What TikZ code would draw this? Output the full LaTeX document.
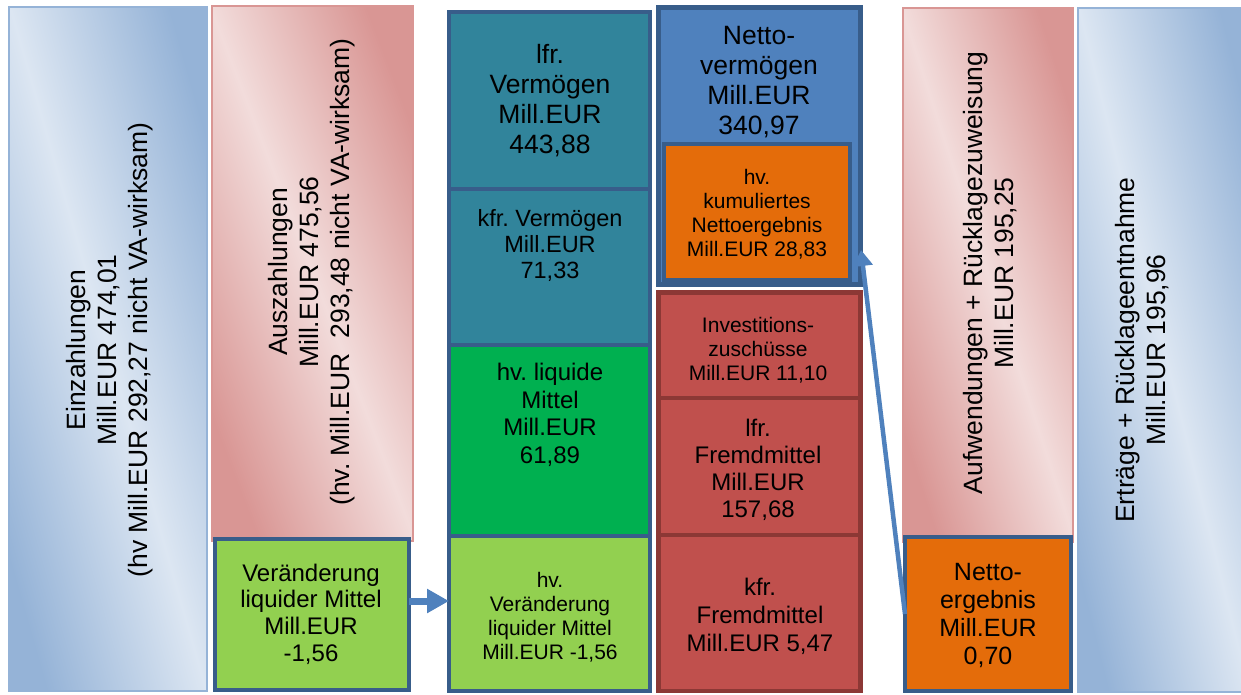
\documentclass[tikz,border=0pt]{standalone}
\usepackage{fontspec}
\setmainfont{Liberation Sans}
\frenchspacing
\usetikzlibrary{fit,arrows.meta}
\definecolor{blueL}{HTML}{DCE6F2}
\definecolor{blueD}{HTML}{95B3D7}
\definecolor{pinkL}{HTML}{F2DCDB}
\definecolor{pinkD}{HTML}{D99694}
\definecolor{tealF}{HTML}{31849B}
\definecolor{bordB}{HTML}{385D8A}
\definecolor{greenF}{HTML}{00B050}
\definecolor{lgreenF}{HTML}{92D050}
\definecolor{nvF}{HTML}{4F81BD}
\definecolor{orangeF}{HTML}{E46C0A}
\definecolor{redF}{HTML}{C0504D}
\definecolor{redB}{HTML}{8C3835}
\definecolor{arrC}{HTML}{4F81BD}
\tikzset{
  bx/.style={inner sep=0pt, outer sep=0pt},
  solidbox/.style={bx, draw=bordB, line width=4.5pt, fill=#1},
  redbox/.style={bx, draw=redB, line width=4.5pt, fill=redF},
  blueshade/.style={bx, draw=blueD, line width=1.5pt, top color=blueD, bottom color=blueD, middle color=blueL, shading angle=#1},
  pinkshade/.style={bx, draw=pinkD, line width=1.5pt, top color=pinkD, bottom color=pinkD, middle color=pinkL, shading angle=#1},
  txt/.style={align=center, inner sep=0pt, text=black},
  fs/.style 2 args={font=\fontsize{#1}{#2}\selectfont},
  arrow/.style={draw=arrC, line width=#1}
}
\begin{document}
\begin{tikzpicture}[x=1pt,y=-1pt]
\useasboundingbox (0,0) rectangle (1241,695);
\fill[white] (0,0) rectangle (1241,695);
\clip (0,0) rectangle (1241,695);

% left columns
\node[blueshade=-74, fit={(9,7)(207,691)}] (einz) {};
\node[pinkshade=-69, fit={(212,6)(413,541)}] (ausz) {};
\node[solidbox=lgreenF, fit={(215,539)(409,690)}] (verL) {};

% middle column
\node[solidbox=tealF, fit={(449,12)(650,189)}] (lfrV) {};
\node[solidbox=tealF, fit={(449,189)(650,345)}] (kfrV) {};
\node[solidbox=greenF, fit={(449,345)(650,536)}] (hvliq) {};
\node[solidbox=lgreenF, fit={(449,536)(650,691)}] (hvVer) {};

% right-middle column
\node[solidbox=nvF, fit={(658.5,7.5)(860.5,284.5)}] (nv) {};
\node[solidbox=orangeF, fit={(664,144)(850,280)}] (kum) {};
\node[redbox, fit={(658.5,292.5)(860.5,398)}] (inv) {};
\node[redbox, fit={(658.5,398)(860.5,535)}] (lfrF) {};
\node[redbox, fit={(658.5,535)(860.5,691)}] (kfrF) {};

% right columns
\node[pinkshade=-72, fit={(903,8)(1073,542)}] (aufw) {};
\node[solidbox=orangeF, fit={(905,537)(1071,691)}] (netE) {};
\node[blueshade=-76, fit={(1078,8)(1250,692)}] (ertr) {};

% texts
\node[txt, fs={26.5}{31}, rotate=90] (tEinz) at (110,350) {Einzahlungen\\Mill.EUR 474,01\\(hv Mill.EUR 292,27 nicht VA-wirksam)};
\node[txt, fs={26.5}{31}, rotate=90] (tAusz) at (312,272) {Auszahlungen\\Mill.EUR 475,56\\(hv. Mill.EUR\ \ 293,48 nicht VA-wirksam)};
\node[txt, fs={24}{26.7}] (tVerL) at (311,614) {Veränderung\\liquider Mittel\\Mill.EUR\\-1,56};

\node[txt, fs={26.5}{30}] (tlfrV) at (550,101) {lfr.\\Vermögen\\Mill.EUR\\443,88};
\node[txt, fs={23.5}{26}] (tkfrV) at (550,245) {kfr. Vermögen\\Mill.EUR\\71,33};
\node[txt, fs={24}{27.5}] (thvliq) at (550,415) {hv. liquide\\Mittel\\Mill.EUR\\61,89};
\node[txt, fs={21}{24}] (thvVer) at (550,617) {hv.\\Veränderung\\liquider Mittel\\Mill.EUR -1,56};

\node[txt, fs={26.5}{30}] (tnv) at (759,82) {Netto-\\vermögen\\Mill.EUR\\340,97};
\node[txt, fs={21}{24}] (tkum) at (757,214) {hv.\\kumuliertes\\Nettoergebnis\\Mill.EUR 28,83};
\node[txt, fs={21}{24}] (tinv) at (758,350) {Investitions-\\zuschüsse\\Mill.EUR 11,10};
\node[txt, fs={24}{27}] (tlfrF) at (758,470) {lfr.\\Fremdmittel\\Mill.EUR\\157,68};
\node[txt, fs={24}{28}] (tkfrF) at (760,616) {kfr.\\Fremdmittel\\Mill.EUR 5,47};

\node[txt, fs={26.5}{30.5}, rotate=90] (tAufw) at (990,273) {Aufwendungen + Rücklagezuweisung\\Mill.EUR 195,25};
\node[txt, fs={25}{28}] (tnetE) at (988,615) {Netto-\\ergebnis\\Mill.EUR\\0,70};
\node[txt, fs={26.5}{31}, rotate=90] (tErtr) at (1142,350) {Erträge + Rücklageentnahme\\Mill.EUR 195,96};

% arrows
\coordinate (a1s) at ([yshift=13.5pt]verL.east);
\draw[arrow=7pt, -{Triangle[length=22pt,width=23pt]}] (a1s) -- (a1s -| hvVer.west);
\draw[arrow=4.5pt, -{Triangle[length=16pt,width=19pt]}] (netE.west) -- ([xshift=0.5pt,yshift=-104pt]nv.east);
\end{tikzpicture}
\end{document}
